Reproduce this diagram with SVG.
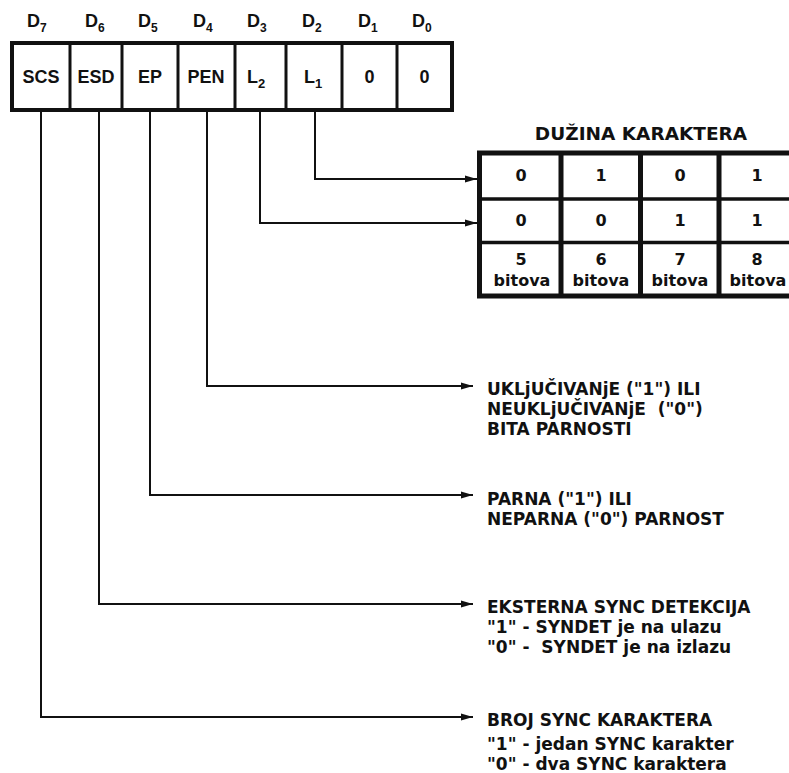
<svg xmlns="http://www.w3.org/2000/svg" width="789" height="773" viewBox="0 0 789 773">
<defs>
<style>
.lbl{font-family:"Liberation Sans",Arial,sans-serif;font-weight:bold;fill:#111}
.dl{font-size:18px}
.sub{font-size:12px}
.cell{font-size:18px;text-anchor:middle}
.tb{font-family:"DejaVu Sans",Verdana,sans-serif;font-weight:bold;font-size:16px;fill:#111;text-anchor:middle}
.desc{font-family:"DejaVu Sans",Verdana,sans-serif;font-weight:bold;font-size:17px;fill:#111;white-space:pre}
.thick{fill:none;stroke:#111;stroke-width:4}
.div{stroke:#111;stroke-width:3}
.conn{fill:none;stroke:#111;stroke-width:2}
</style>
<marker id="arr" viewBox="0 0 12 8" refX="12" refY="4" markerWidth="12" markerHeight="8" markerUnits="userSpaceOnUse" orient="auto">
<path d="M0,0.5 L12,4 L0,7.5 Z" fill="#111"/>
</marker>
</defs>
<rect width="789" height="773" fill="#fff"/>

<g id="register">
<g class="lbl dl">
<text x="27" y="27">D<tspan class="sub" dy="5">7</tspan></text>
<text x="85" y="27">D<tspan class="sub" dy="5">6</tspan></text>
<text x="138" y="27">D<tspan class="sub" dy="5">5</tspan></text>
<text x="193" y="27">D<tspan class="sub" dy="5">4</tspan></text>
<text x="247" y="27">D<tspan class="sub" dy="5">3</tspan></text>
<text x="302" y="27">D<tspan class="sub" dy="5">2</tspan></text>
<text x="358" y="27">D<tspan class="sub" dy="5">1</tspan></text>
<text x="412" y="27">D<tspan class="sub" dy="5">0</tspan></text>
</g>
<rect class="thick" x="12" y="43" width="440" height="67"/>
<line class="div" x1="70" y1="43" x2="70" y2="110"/>
<line class="div" x1="122" y1="43" x2="122" y2="110"/>
<line class="div" x1="178" y1="43" x2="178" y2="110"/>
<line class="div" x1="235" y1="43" x2="235" y2="110"/>
<line class="div" x1="286" y1="43" x2="286" y2="110"/>
<line class="div" x1="342" y1="43" x2="342" y2="110"/>
<line class="div" x1="397" y1="43" x2="397" y2="110"/>
<g id="bit-d7"><text class="lbl cell" x="41" y="83">SCS</text></g>
<g id="bit-d6"><text class="lbl cell" x="96" y="83">ESD</text></g>
<g id="bit-d5"><text class="lbl cell" x="150" y="83">EP</text></g>
<g id="bit-d4"><text class="lbl cell" x="206" y="83">PEN</text></g>
<g id="bit-d3"><text class="lbl cell" x="247" y="83" style="text-anchor:start">L<tspan font-size="13" dy="5">2</tspan></text></g>
<g id="bit-d2"><text class="lbl cell" x="304" y="83" style="text-anchor:start">L<tspan font-size="13" dy="5">1</tspan></text></g>
<g id="bit-d1"><text class="lbl cell" x="369.5" y="83">0</text></g>
<g id="bit-d0"><text class="lbl cell" x="424.5" y="83">0</text></g>
</g>

<g id="length-table">
<text class="tb" x="641" y="140" style="font-size:18.5px">DUŽINA KARAKTERA</text>
<rect x="479.5" y="153" width="320" height="143" fill="none" stroke="#111" stroke-width="5"/>
<line x1="561" y1="153" x2="561" y2="296" stroke="#111" stroke-width="5"/>
<line x1="640.5" y1="153" x2="640.5" y2="296" stroke="#111" stroke-width="5"/>
<line x1="719" y1="153" x2="719" y2="296" stroke="#111" stroke-width="5"/>
<line x1="479" y1="199" x2="789" y2="199" stroke="#111" stroke-width="3.5"/>
<line x1="479" y1="242.5" x2="789" y2="242.5" stroke="#111" stroke-width="3.5"/>
<text class="tb" x="521" y="181">0</text>
<text class="tb" x="601" y="181">1</text>
<text class="tb" x="680" y="181">0</text>
<text class="tb" x="757" y="181">1</text>
<text class="tb" x="521" y="226">0</text>
<text class="tb" x="601" y="226">0</text>
<text class="tb" x="680" y="226">1</text>
<text class="tb" x="757" y="226">1</text>
<text class="tb" x="521" y="265">5</text>
<text class="tb" x="601" y="265">6</text>
<text class="tb" x="680" y="265">7</text>
<text class="tb" x="757" y="265">8</text>
<text class="tb" x="522" y="286">bitova</text>
<text class="tb" x="601" y="286">bitova</text>
<text class="tb" x="680" y="286">bitova</text>
<text class="tb" x="758" y="286">bitova</text>
</g>

<g id="desc-pen">
<text class="desc" x="487" y="395">UKLjUČIVANjE ("1") ILI</text>
<text class="desc" x="487" y="415">NEUKLjUČIVANjE  ("0")</text>
<text class="desc" x="487" y="435">BITA PARNOSTI</text>
</g>
<g id="desc-ep">
<text class="desc" x="487" y="505">PARNA ("1") ILI</text>
<text class="desc" x="487" y="525">NEPARNA ("0") PARNOST</text>
</g>
<g id="desc-esd">
<text class="desc" x="487" y="613">EKSTERNA SYNC DETEKCIJA</text>
<text class="desc" x="487" y="633">"1" - SYNDET je na ulazu</text>
<text class="desc" x="487" y="653">"0" -  SYNDET je na izlazu</text>
</g>
<g id="desc-scs">
<text class="desc" x="487" y="726">BROJ SYNC KARAKTERA</text>
<text class="desc" x="487" y="750">"1" - jedan SYNC karakter</text>
<text class="desc" x="487" y="770">"0" - dva SYNC karaktera</text>
</g>

<g id="connectors">
<polyline class="conn" points="315,112 315,179 477,179" marker-end="url(#arr)"/>
<polyline class="conn" points="260,112 260,223 477,223" marker-end="url(#arr)"/>
<polyline class="conn" points="207,112 207,386 473,386" marker-end="url(#arr)"/>
<polyline class="conn" points="150,112 150,495 473,495" marker-end="url(#arr)"/>
<polyline class="conn" points="99,112 99,604 473,604" marker-end="url(#arr)"/>
<polyline class="conn" points="41,112 41,717 473,717" marker-end="url(#arr)"/>
</g>
</svg>
